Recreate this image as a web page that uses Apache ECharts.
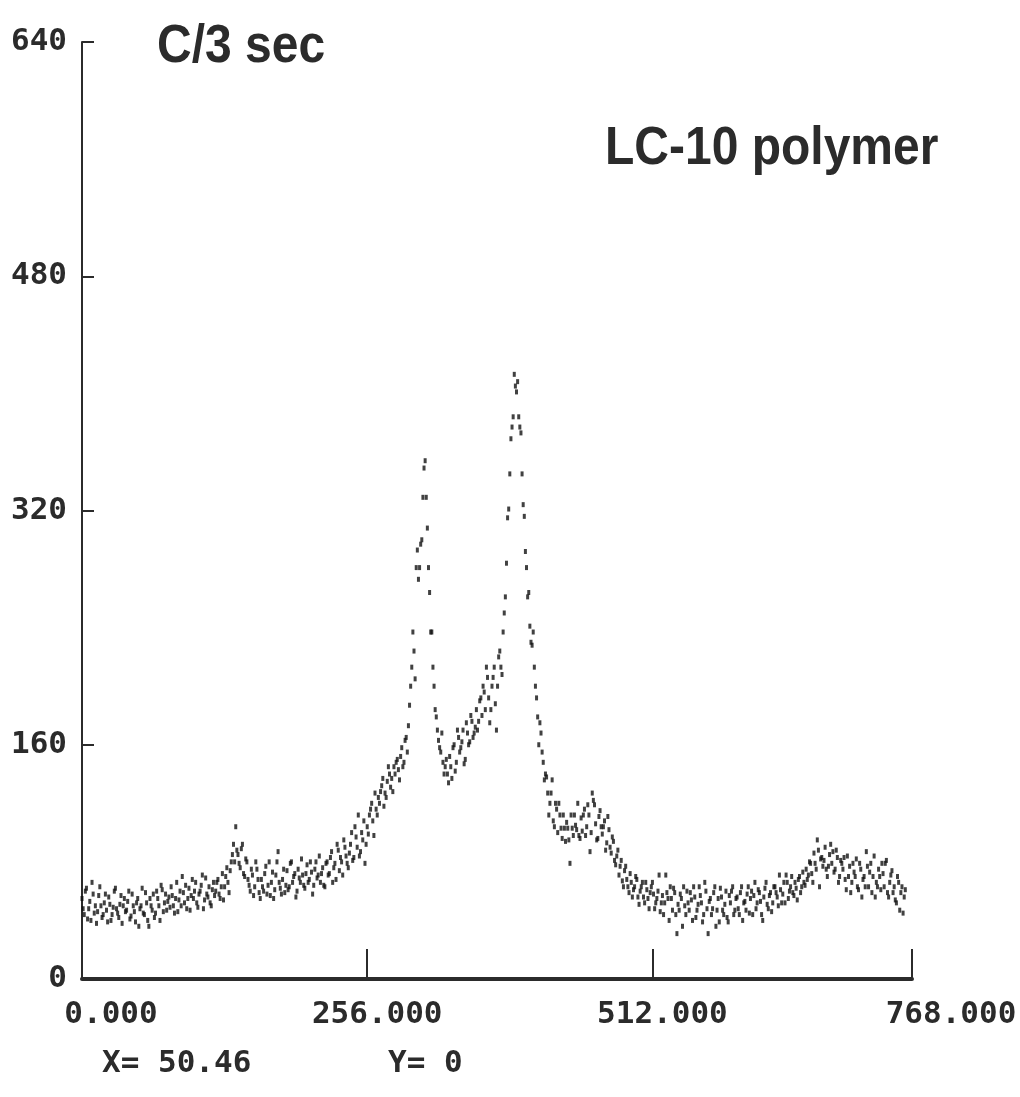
<!DOCTYPE html>
<html>
<head>
<meta charset="utf-8">
<script src="https://cdn.jsdelivr.net/npm/echarts@6/dist/echarts.min.js"></script>
<style>
  html, body { margin: 0; padding: 0; background: #fff; }
  #chart { width: 1020px; height: 1097px; }
</style>
</head>
<body>
<div id="chart"></div>
<script>
// counts: even channels (0, 2, 4 ...) and odd channels (1, 3, 5 ...)
const leftWing = [
  55, 44, 62, 48, 40, 58, 50, 46, 63, 42,
  52, 47, 56, 40, 49, 62, 45, 51, 38, 55,
  47, 60, 43, 50, 39, 55, 48, 62, 44, 52,
  36, 50, 58, 45, 55, 40, 61, 52, 47, 56,
  63, 50, 55, 46, 60, 70, 52, 48, 62, 57,
  55, 66, 49, 60, 71, 54, 58, 63, 50, 66,
  60, 68, 55, 72, 63, 76, 59, 80, 92, 104,
  85, 76, 92, 70, 80, 64, 75, 57, 80, 68,
  55, 63, 72, 58, 80, 66, 55, 71, 87, 62,
  68, 59, 74, 63, 80, 70, 56, 75, 66, 71,
  62, 78, 68, 73, 64, 80, 71, 66, 76, 63,
  80, 72, 87, 76, 68, 88, 83, 71, 90, 79,
  86, 100, 83, 97, 112, 87, 95, 79, 104, 112
];
const peakRegion = [
  120, 98, 116, 124, 128, 137, 127, 135, 140, 137,
  145, 148, 143, 152, 145, 163, 155, 187, 213, 224,
  281, 273, 297, 329, 354, 308, 264, 237,
  200, 179, 163, 155, 148, 145, 140, 152, 137, 160,
  148, 165, 158, 170, 150, 168, 162, 176, 168,
  184, 176, 192, 200, 184, 206, 175, 200, 213, 170,
  220, 213, 237,
  261, 315, 345, 377, 413, 401, 384, 373, 324, 292, 261, 241
];
const shoulder = [
  228, 213, 192, 160, 168, 148, 140, 127, 120, 136, 104, 116, 120, 103,
  112, 94, 103, 79, 103, 112, 102, 98, 110, 112, 98, 119,
  87, 127, 119, 95, 111, 104, 104, 88, 111, 90, 97, 81,
  84, 71, 81, 63, 77, 63, 72, 56, 63, 68, 51,
  63, 56, 66, 55, 59, 66, 48, 55, 71, 52
];
const rightWing = [
  44, 71, 55, 63, 47, 59, 31, 47, 55, 63,
  44, 52, 59, 40, 56, 47, 63, 52, 44, 60,
  31, 55, 48, 63, 47, 39, 56, 44, 60, 39,
  52, 63, 47, 56, 44, 63, 52, 47, 63, 55,
  44, 66, 52, 59, 44, 56, 66, 48, 59, 52,
  63, 56, 71, 52, 66, 71, 55, 63, 59, 66,
  54, 70, 63, 66,
  75, 71, 79, 66, 79, 95, 63, 83, 81, 75,
  77, 92, 87, 75, 83, 70, 79, 83, 61, 70,
  59, 79, 70, 63, 79, 56,
  70, 87, 63, 79, 70, 56, 63, 70, 79, 63,
  81, 56, 71, 59, 54, 70, 47, 63, 56
];

const leftWingOdd = [
  48, 60, 41, 53, 66, 45, 38, 57, 50, 44,
  58, 39, 51, 44, 60, 48, 42, 57, 50, 46,
  53, 41, 58, 46, 52, 36, 50, 45, 59, 40,
  55, 47, 42, 60, 50, 64, 46, 58, 53, 49,
  57, 45, 66, 54, 50, 59, 64, 55, 47, 68,
  60, 52, 58, 64, 48, 69, 56, 52, 61, 57,
  66, 58, 63, 54, 70, 66, 74, 85, 80, 88,
  79, 89, 72, 82, 68, 60, 71, 63, 75, 59,
  68, 60, 77, 64, 57, 73, 61, 80, 66, 58,
  75, 64, 61, 79, 66, 72, 60, 69, 82, 64,
  72, 66, 80, 58, 75, 69, 84, 72, 64, 79,
  71, 83, 66, 79, 92, 74, 80, 95, 84, 76,
  92, 81, 104, 90, 84, 100, 108, 92, 99, 116
];
const peakRegionOdd = [
  108, 127, 112, 120, 132, 118, 124, 145, 131, 128,
  140, 150, 136, 158, 148, 165, 173, 200, 237, 205,
  293, 281, 300, 349, 329, 281, 237, 213,
  184, 170, 158, 168, 140, 150, 134, 145, 158, 142,
  170, 155, 162, 147, 175, 160, 180, 165, 172,
  170, 190, 180, 196, 213, 192, 184, 206, 188, 200,
  224, 208, 250,
  284, 321, 369, 384, 405, 408, 377, 345, 316, 281, 264, 230
];
const shoulderOdd = [
  237, 200, 179, 175, 155, 136, 138, 112, 127, 108, 120, 100, 112, 96,
  103, 107, 95, 112, 98, 105, 120, 96, 101, 116, 104, 112,
  100, 122, 106, 96, 115, 99, 108, 93, 102, 86, 94, 78,
  88, 77, 67, 74, 68, 59, 66, 61, 70, 56, 60,
  66, 52, 61, 48, 63, 58, 52, 60, 46, 57
];
const rightWingOdd = [
  52, 59, 40, 55, 62, 44, 51, 58, 36, 50,
  60, 47, 54, 63, 42, 51, 57, 39, 66, 48,
  53, 44, 59, 36, 55, 62, 47, 51, 42, 57,
  60, 44, 55, 48, 59, 40, 53, 58, 45, 60,
  57, 48, 61, 53, 40, 62, 51, 57, 46, 63,
  59, 50, 61, 58, 52, 66, 60, 70, 57, 62,
  68, 59, 73, 64,
  68, 80, 72, 86, 75, 88, 82, 77, 90, 70,
  85, 79, 73, 88, 66, 81, 75, 68, 84, 77,
  66, 73, 82, 61, 75, 68,
  63, 77, 73, 59, 84, 66, 75, 61, 72, 79,
  59, 66, 74, 63, 52, 66, 59, 45, 61
];

const yTicks = [0, 160, 320, 480, 640];
// the last tick sits at the end of the data, but the plot labels it 768
const xTicks = [0, 256, 512, 745];
const xTickLabels = ['0.000', '256.000', '512.000', '768.000'];

const evenCounts = leftWing.concat(peakRegion, shoulder, rightWing);
const oddCounts = leftWingOdd.concat(peakRegionOdd, shoulderOdd, rightWingOdd);
const points = evenCounts.map((c, i) => [2 * i, c])
  .concat(oddCounts.map((c, i) => [2 * i + 1, c]));

const ink = '#2b2b2b';
const tickFont = "'DejaVu Sans Mono', monospace";
const titleFont = "'Liberation Sans', Arial, sans-serif";
const tickSize = 31;

const myChart = echarts.init(document.getElementById('chart'), null, { renderer: 'canvas' });

const richBase = { fontFamily: tickFont, fontSize: tickSize, fontWeight: 'bold', color: ink };

const option = {
  backgroundColor: '#fff',
  animation: false,
  grid: { left: 82, right: 108, top: 42, bottom: 118, containLabel: false, outerBoundsMode: 'none' },
  xAxis: {
    type: 'value',
    min: 0,
    max: 745,
    axisLine: { show: true, onZero: false, lineStyle: { color: ink, width: 4 } },
    axisTick: { show: true, inside: true, length: 30, customValues: xTicks.slice(1), lineStyle: { color: ink, width: 2 } },
    splitLine: { show: false },
    axisLabel: {
      customValues: xTicks,
      margin: 20,
      formatter: function (v) {
        const i = xTicks.indexOf(v);
        const style = i === 0 ? 'first' : (i === xTicks.length - 1 ? 'last' : 'mid');
        return '{' + style + '|' + xTickLabels[i] + '}';
      },
      rich: {
        first: Object.assign({ padding: [0, 0, 0, 58] }, richBase),
        mid: Object.assign({ padding: [0, 0, 0, 20] }, richBase),
        last: Object.assign({ padding: [0, 0, 0, 78] }, richBase)
      }
    }
  },
  yAxis: {
    type: 'value',
    min: 0,
    max: 640,
    interval: 160,
    axisLine: { show: true, lineStyle: { color: ink, width: 2 } },
    axisTick: { show: true, inside: true, length: 12, lineStyle: { color: ink, width: 2 } },
    splitLine: { show: false },
    axisLabel: {
      margin: 15,
      color: ink,
      fontFamily: tickFont,
      fontSize: tickSize,
      fontWeight: 'bold',
      formatter: v => (yTicks.indexOf(v) >= 0 ? String(v) : '')
    }
  },
  graphic: [
    { type: 'text', left: 157, top: 20, scaleY: 1.12, style: { text: 'C/3 sec', font: 'bold 48px ' + titleFont, fill: ink } },
    { type: 'text', left: 605, top: 122, scaleY: 1.12, style: { text: 'LC-10 polymer', font: 'bold 48px ' + titleFont, fill: ink } },
    { type: 'text', left: 102, top: 1048, style: { text: 'X= 50.46', font: 'bold ' + tickSize + 'px ' + tickFont, fill: ink } },
    { type: 'text', left: 388, top: 1048, style: { text: 'Y= 0', font: 'bold ' + tickSize + 'px ' + tickFont, fill: ink } }
  ],
  series: [{
    type: 'scatter',
    data: points,
    symbol: 'rect',
    symbolSize: [3, 5],
    itemStyle: { color: '#111' },
    silent: true
  }]
};

myChart.setOption(option);
window.addEventListener('resize', function () {
  myChart.resize();
});
</script>
</body>
</html>
